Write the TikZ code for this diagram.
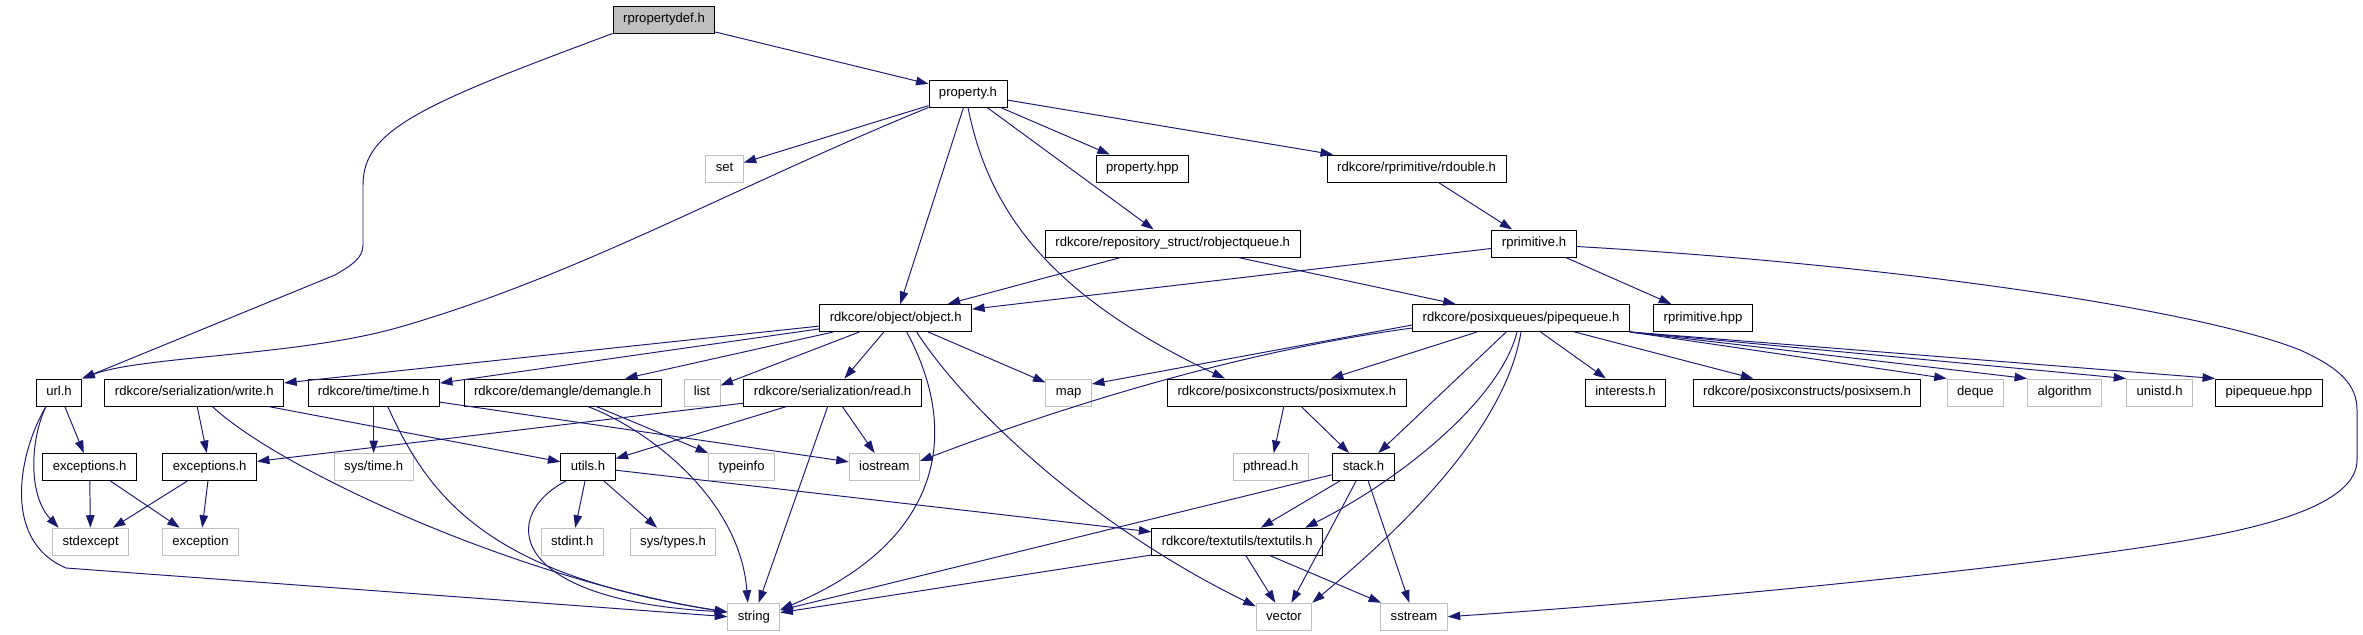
\documentclass[tikz,border=0pt]{standalone}
\usepackage{fontspec}
\setmainfont{Liberation Sans}
\usepackage{tikz}
\usetikzlibrary{arrows.meta, calc}
\definecolor{garis}{HTML}{191970}
\definecolor{abu}{HTML}{BFBFBF}

\begin{document}
\begin{tikzpicture}[
				x=0.02cm, y=-0.02cm,
				berkas/.style={draw, rectangle, minimum height=0.54cm, inner xsep=0.2cm, inner ysep=0pt, text height=5.5pt, text depth=1.6pt, font=\fontsize{7.46pt}{8pt}\selectfont, fill=white, line width=0.55pt},
				sistem/.style={berkas, draw=abu},
				akar/.style={berkas, fill=abu},
				panah/.style={-{Triangle[length=0.25cm, width=0.17cm]}, color=garis, line width=0.55pt}
			]
			\useasboundingbox (0,0) rectangle (2363,635);

			% Baris atas
			\node[akar] (rpdef) at (664,19.5) {rpropertydef.h};
			\node[berkas] (property_h) at (968,93.5) {property.h};
			\node[sistem] (set) at (724.5,168.5) {set};
			\node[berkas] (property_hpp) at (1142.3,168.5) {property.hpp};
			\node[berkas] (rdouble) at (1416.6,168.5) {rdkcore/rprimitive/rdouble.h};
			\node[berkas] (robjq) at (1172.7,243.5) {rdkcore/repository\_struct/robjectqueue.h};
			\node[berkas] (rprim) at (1534,243.5) {rprimitive.h};
			\node[berkas] (object) at (895.7,318) {rdkcore/object/object.h};
			\node[berkas] (pipeq) at (1521,318) {rdkcore/posixqueues/pipequeue.h};
			\node[berkas] (rprim_hpp) at (1703,318) {rprimitive.hpp};

			% Baris tengah
			\node[berkas] (url) at (59,392.5) {url.h};
			\node[berkas] (write) at (194.3,392.5) {rdkcore/serialization/write.h};
			\node[berkas] (time) at (373.7,392.5) {rdkcore/time/time.h};
			\node[berkas] (demangle) at (562.6,392.5) {rdkcore/demangle/demangle.h};
			\node[sistem] (list) at (702,392.5) {list};
			\node[berkas] (read) at (832.6,392.5) {rdkcore/serialization/read.h};
			\node[sistem] (map) at (1068.7,392.5) {map};
			\node[berkas] (posixmutex) at (1286.8,392.5) {rdkcore/posixconstructs/posixmutex.h};
			\node[berkas] (interests) at (1625.5,392.5) {interests.h};
			\node[berkas] (posixsem) at (1807,392.5) {rdkcore/posixconstructs/posixsem.h};
			\node[sistem] (deque) at (1975.4,392.5) {deque};
			\node[sistem] (algorithm) at (2064.5,392.5) {algorithm};
			\node[sistem] (unistd) at (2159.6,392.5) {unistd.h};
			\node[berkas] (pipeq_hpp) at (2268.9,392.5) {pipequeue.hpp};

			\node[berkas] (exc_a) at (89.6,467) {exceptions.h};
			\node[berkas] (exc_b) at (209.7,467) {exceptions.h};
			\node[sistem] (systime) at (373.7,467) {sys/time.h};
			\node[berkas] (utils) at (588,467) {utils.h};
			\node[sistem] (typeinfo) at (741.6,467) {typeinfo};
			\node[sistem] (iostream) at (884.3,467) {iostream};
			\node[sistem] (pthread) at (1270.7,467) {pthread.h};
			\node[berkas] (stack) at (1363.5,467) {stack.h};

			% Baris bawah
			\node[sistem] (stdexcept) at (90.6,541.7) {stdexcept};
			\node[sistem] (exception) at (200.5,541.7) {exception};
			\node[sistem] (stdint) at (572.3,541.7) {stdint.h};
			\node[sistem] (systypes) at (673,541.7) {sys/types.h};
			\node[berkas] (textutils) at (1237.2,541.7) {rdkcore/textutils/textutils.h};
			\node[sistem] (string) at (753.8,616.7) {string};
			\node[sistem] (vector) at (1284,616.7) {vector};
			\node[sistem] (sstream) at (1414,616.7) {sstream};

			% Garis dari rpropertydef.h dan property.h
			\draw[panah] (rpdef) -- (property_h);
			\draw[panah] (rpdef.south west) .. controls (420,105) and (363,130) .. (363,185) -- (363,245) .. controls (363,258) and (352,265) .. (335,275) -- (url.north east);
			\draw[panah] (property_h) -- (set);
			\draw[panah] (property_h.south west) .. controls (729,189) and (580,275) .. (400,327) .. controls (300,356) and (142,356) .. (url.north east);
			\draw[panah] (property_h) -- (object);
			\draw[panah] (property_h.south) .. controls (990,220) and (1060,300) .. ($(posixmutex.north)+(-62,0)$);
			\draw[panah] (property_h) -- (robjq);
			\draw[panah] (property_h) -- (property_hpp);
			\draw[panah] (property_h) -- (rdouble);

			% Garis rprimitive
			\draw[panah] (rdouble) -- (rprim);
			\draw[panah] (rprim) -- (object);
			\draw[panah] (rprim) -- (rprim_hpp);
			\draw[panah] ($(rprim.east)+(0,3)$) .. controls (1900,265) and (2200,310) .. (2300,350) .. controls (2340,368) and (2357,385) .. (2357,410) -- (2357,460) .. controls (2357,495) and (2300,520) .. (2200,538) .. controls (2050,565) and (1700,600) .. (sstream.east);
			\draw[panah] (robjq) -- (object);
			\draw[panah] (robjq) -- (pipeq);

			% Garis object.h
			\draw[panah] (object) -- (write);
			\draw[panah] (object) -- (time);
			\draw[panah] (object) -- (demangle);
			\draw[panah] (object) -- (list);
			\draw[panah] (object) -- (read);
			\draw[panah] (object) -- (map);
			\draw[panah] ($(object.south)+(11,0)$) .. controls (965,440) and (935,545) .. (string.15);
			\draw[panah] ($(object.south)+(21,0)$) .. controls (960,400) and (1080,520) .. (vector.160);

			% Garis url.h, write.h, time.h, demangle.h, read.h
			\draw[panah] (url) -- (exc_a);
			\draw[panah] ($(url.south)+(-13,0)$) .. controls (30,440) and (28,495) .. ($(stdexcept.north)+(-32,0)$);
			\draw[panah] ($(url.south)+(-13,0)$) .. controls (20,450) and (0,540) .. (66,568) -- (string.west);
			\draw[panah] (write) -- (exc_b);
			\draw[panah] (write) -- (utils);
			\draw[panah] ($(write.south)+(18,0)$) .. controls (280,470) and (520,580) .. (string.170);
			\draw[panah] (time) -- (systime);
			\draw[panah] (time) -- (iostream);
			\draw[panah] ($(time.south)+(14,0)$) .. controls (430,500) and (490,575) .. (string.170);
			\draw[panah] (demangle) -- (typeinfo);
			\draw[panah] ($(demangle.south)+(25,0)$) .. controls (650,430) and (740,500) .. ($(string.north)+(-6,0)$);
			\draw[panah] (read) -- (exc_b);
			\draw[panah] (read) -- (utils);
			\draw[panah] (read) -- (string);
			\draw[panah] (read) -- (iostream);

			% Garis exceptions.h dan utils.h
			\draw[panah] (exc_a) -- (stdexcept);
			\draw[panah] (exc_a) -- (exception);
			\draw[panah] (exc_b) -- (stdexcept);
			\draw[panah] (exc_b) -- (exception);
			\draw[panah] ($(utils.south)+(-22,0)$) .. controls (500,515) and (505,600) .. (string.170);
			\draw[panah] (utils) -- (stdint);
			\draw[panah] (utils) -- (systypes);
			\draw[panah] (utils) -- (textutils);

			% Garis pipequeue.h
			\draw[panah] ($(pipeq.west)+(0,7)$) -- (map.20);
			\draw[panah] ($(pipeq.west)+(0,10)$) .. controls (1250,350) and (1080,400) .. ($(iostream.east)+(0,-6)$);
			\draw[panah] (pipeq) -- (posixmutex);
			\draw[panah] (pipeq) -- (stack);
			\draw[panah] ($(pipeq.south)+(-4,0)$) .. controls (1500,400) and (1400,480) .. ($(textutils.north)+(68,0)$);
			\draw[panah] (pipeq.south) .. controls (1505,430) and (1400,530) .. (vector.north east);
			\draw[panah] (pipeq) -- (interests);
			\draw[panah] (pipeq) -- (posixsem);
			\draw[panah] (pipeq.south east) -- (deque.north west);
			\draw[panah] (pipeq.south east) -- (algorithm.north west);
			\draw[panah] (pipeq.south east) -- (unistd.north west);
			\draw[panah] (pipeq.south east) -- (pipeq_hpp.north west);

			% Garis posixmutex.h, stack.h, textutils.h
			\draw[panah] (posixmutex) -- (pthread);
			\draw[panah] (posixmutex) -- (stack);
			\draw[panah] (stack) -- (string);
			\draw[panah] (stack) -- (textutils);
			\draw[panah] (stack) -- (vector);
			\draw[panah] (stack) -- (sstream);
			\draw[panah] (textutils) -- (string);
			\draw[panah] (textutils) -- (vector);
			\draw[panah] (textutils) -- (sstream);
		\end{tikzpicture}
\end{document}
